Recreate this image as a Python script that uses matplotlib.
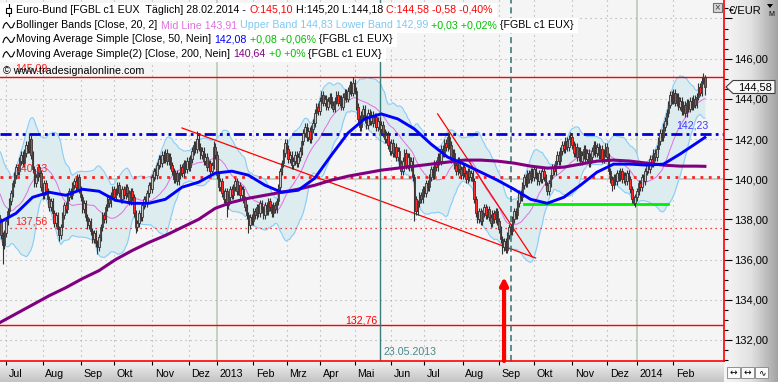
import numpy as np
import pandas as pd
import matplotlib
matplotlib.use("Agg")
import matplotlib.pyplot as plt
import matplotlib.patches as mpatches
from matplotlib.ticker import FuncFormatter, MultipleLocator
from matplotlib.transforms import blended_transform_factory, ScaledTranslation
from matplotlib.colors import LinearSegmentedColormap

plt.rcParams['font.family'] = ['Liberation Sans', 'DejaVu Sans']
FS = 7.7

# trading days, Eurex holidays removed
holidays = ['2012-12-24', '2012-12-25', '2012-12-26', '2012-12-31', '2013-01-01',
            '2013-03-29', '2013-04-01', '2013-05-01', '2013-12-24', '2013-12-25',
            '2013-12-26', '2013-12-31', '2014-01-01']
days = pd.bdate_range('2012-06-26', '2014-02-28')
days = days[~days.isin(pd.to_datetime(holidays))]
day_idx = {d.strftime('%Y-%m-%d'): i for i, d in enumerate(days)}

# daily closes
warmup = [141.0, 141.4, 140.8, 140.2, 139.5, 139.9, 140.4, 139.8, 139.1, 138.6,
          139.2, 139.7, 139.3, 138.8, 138.3, 138.7, 138.1, 137.6, 138.2]
c_jun12 = [137.9, 137.2, 136.7, 137.3]
c_jul12 = [137.9, 138.4, 138.9, 139.3, 139.8, 140.2, 140.6, 140.4, 140.9, 141.2, 140.8,
           141.3, 141.7, 141.5, 142.0, 141.2, 140.5, 139.8, 140.1, 140.6, 140.3, 139.6]
c_aug12 = [139.2, 139.8, 139.4, 139.0, 138.6, 138.9, 138.3, 137.8, 138.2, 137.5, 137.2,
           137.6, 138.2, 138.7, 138.5, 139.1, 139.4, 139.2, 139.7, 139.9, 139.6, 140.1, 139.5]
c_sep12 = [139.1, 138.5, 138.8, 138.1, 137.7, 137.9, 137.4, 137.0, 137.3, 136.8,
           136.6, 137.1, 137.6, 138.2, 138.0, 138.6, 139.0, 138.8, 139.2, 139.5]
c_okt12 = [139.1, 139.4, 139.7, 139.3, 139.0, 139.5, 139.2, 139.6, 139.3, 138.9, 139.4,
           139.1, 138.3, 137.6, 137.8, 138.3, 138.1, 138.7, 139.0, 138.8, 139.3, 139.7, 139.5]
c_nov12 = [140.1, 140.4, 140.2, 140.7, 141.0, 140.8, 141.2, 141.0, 141.3, 140.9, 141.1,
           140.7, 140.4, 140.0, 140.3, 139.9, 140.2, 140.6, 140.3, 140.8, 140.5, 140.9]
c_dez12 = [140.6, 141.0, 141.4, 141.7, 141.5, 142.0, 141.6, 141.2, 141.4, 140.9, 141.1,
           140.6, 140.8, 140.4, 140.7, 141.6, 141.2]
c_jan13 = [140.2, 139.6, 139.9, 139.3, 139.0, 139.4, 138.7, 139.1, 139.5, 139.2, 139.6,
           139.9, 139.4, 139.7, 139.2, 139.5, 139.0, 138.6, 138.2, 137.7, 138.1, 137.9]
c_feb13 = [138.4, 138.2, 138.6, 138.3, 138.8, 138.5, 138.2, 138.7, 138.4, 138.9,
           138.6, 138.3, 138.7, 138.5, 138.9, 139.6, 140.4, 140.8, 141.3, 141.8]
c_mar13 = [141.5, 141.0, 141.2, 140.7, 140.9, 141.2, 140.8, 141.1, 141.4, 141.9,
           142.3, 142.6, 142.1, 142.4, 142.0, 142.5, 142.8, 143.3, 143.6, 143.4]
c_apr13 = [143.9, 144.2, 143.8, 144.0, 143.6, 143.9, 144.1, 143.7, 143.5, 143.9, 144.2,
           143.8, 144.0, 143.6, 144.1, 144.3, 144.0, 144.4, 144.7, 144.3, 144.8]
c_mai13 = [144.4, 143.6, 143.0, 142.6, 143.2, 143.5, 143.0, 142.7, 143.3, 142.9, 143.2,
           142.8, 143.1, 142.6, 142.9, 142.5, 142.7, 142.3, 142.0, 142.2, 141.7, 141.4]
c_jun13 = [141.8, 141.3, 141.6, 141.1, 141.4, 140.8, 140.4, 140.9, 141.3, 140.7,
           141.1, 140.6, 140.9, 140.1, 139.0, 138.4, 138.8, 139.2, 139.0, 139.5]
c_jul13 = [139.3, 139.8, 139.6, 140.1, 140.5, 140.2, 140.8, 140.6, 141.1, 140.9, 141.5,
           141.3, 141.8, 141.6, 142.1, 141.7, 141.0, 141.3, 140.7, 140.4, 140.9, 140.5, 140.2]
c_aug13 = [140.6, 140.3, 140.0, 140.4, 140.1, 140.3, 139.9, 139.0, 138.3, 138.0, 138.4,
           137.9, 138.3, 138.6, 138.2, 138.5, 138.1, 137.8, 138.3, 138.0, 138.4, 137.9]
c_sep13 = [137.5, 137.0, 136.6, 136.9, 136.5, 137.2, 137.6, 137.4, 138.0, 138.4, 138.2,
           138.8, 139.3, 139.1, 139.7, 140.1, 139.8, 140.3, 140.0, 140.4, 140.1]
c_okt13 = [140.5, 140.2, 139.9, 140.3, 140.0, 140.4, 140.1, 139.7, 139.4, 139.8, 140.2,
           140.6, 140.4, 140.9, 141.2, 140.9, 141.4, 141.7, 141.5, 141.9, 141.6, 142.0, 142.1]
c_nov13 = [141.7, 141.3, 141.6, 141.1, 141.4, 140.9, 141.2, 141.5, 141.0, 141.3, 140.8,
           141.1, 141.4, 141.7, 141.3, 141.6, 141.2, 141.5, 141.0, 141.3, 141.6]
c_dez13 = [141.1, 140.4, 140.0, 139.7, 140.1, 139.9, 140.3, 140.1, 140.4, 140.0, 140.2,
           139.9, 140.3, 140.0, 139.5, 139.0, 138.8, 139.1]
c_jan14 = [139.4, 139.8, 139.6, 140.1, 139.9, 140.4, 140.7, 140.5, 141.0, 140.8, 141.3,
           141.1, 141.5, 141.9, 142.3, 142.1, 142.6, 142.9, 143.3, 143.7, 144.2, 143.9]
c_feb14 = [144.3, 143.8, 144.1, 143.6, 143.9, 143.4, 143.7, 143.3, 143.8, 143.5,
           143.9, 143.6, 144.0, 143.7, 144.1, 144.6, 144.3, 144.9, 145.1, 144.58]
close = (c_jun12 + c_jul12 + c_aug12 + c_sep12 + c_okt12 + c_nov12 + c_dez12 + c_jan13
         + c_feb13 + c_mar13 + c_apr13 + c_mai13 + c_jun13 + c_jul13 + c_aug13 + c_sep13
         + c_okt13 + c_nov13 + c_dez13 + c_jan14 + c_feb14)

# long wicks visible on the chart
spike_low = {2: 135.8, 36: 136.9, 59: 136.3, 82: 137.3, 137: 138.1, 150: 137.3,
             250: 137.9, 303: 136.3, 369: 139.4, 382: 138.7, 425: 144.18}
spike_high = {18: 142.3, 119: 142.4, 129: 141.9, 213: 145.1, 270: 142.35,
              344: 142.35, 425: 145.2}

# moving averages, every 10th trading day
sma_idx = list(range(0, 421, 10)) + [425]
sma50 = [137.85, 138.3, 139.1, 139.35, 139.2, 139.5, 139.4, 138.95, 138.8, 138.8, 139.0,
         139.6, 139.85, 140.3, 140.4, 140.2, 139.7, 139.35, 139.45, 140.05, 141.2, 142.3,
         143.0, 143.25, 143.0, 142.5, 141.75, 141.1, 140.75, 140.35, 139.95, 139.5, 139.0,
         138.8, 139.1, 139.7, 140.35, 140.75, 140.75, 140.7, 140.75, 141.25, 141.8, 142.08]
sma200 = [132.85, 133.3, 133.75, 134.2, 134.6, 135.05, 135.45, 136.0, 136.45, 136.85,
          137.2, 137.6, 138.0, 138.55, 138.85, 139.05, 139.2, 139.35, 139.5, 139.7, 139.95,
          140.15, 140.3, 140.45, 140.55, 140.65, 140.75, 140.85, 140.95, 140.95, 140.9,
          140.8, 140.65, 140.55, 140.6, 140.75, 140.9, 140.95, 140.9, 140.8, 140.7, 140.65,
          140.65, 140.64]

# drawing objects
red_solid = [145.09, 132.76]
red_dots_bold = 140.13
red_dots_thin = 137.56
blue_level = 142.23
green_seg = ('2013-09-23', '2014-01-29', 138.75)
trend_a = (('2012-11-27', 142.55), ('2013-10-02', 136.08))
trend_b = (('2013-07-11', 143.25), ('2013-09-30', 136.13))
marked_day = '2013-05-23'
dashed_day = '2013-09-11'
arrow_day, arrow_tip = '2013-09-05', 135.13
month_lbl = ['Jul', 'Aug', 'Sep', 'Okt', 'Nov', 'Dez', '2013', 'Feb', 'Mrz', 'Apr', 'Mai',
             'Jun', 'Jul', 'Aug', 'Sep', 'Okt', 'Nov', 'Dez', '2014', 'Feb']

# ---- derived series
n = len(close)
x = np.arange(n)
c = np.array(close)
o = np.array([warmup[-1]] + close[:-1])
o[-1] = 145.10
hi = np.maximum(o, c) + 0.18
lo = np.minimum(o, c) - 0.18
for k, v in spike_low.items():
    lo[k] = v
for k, v in spike_high.items():
    hi[k] = v
s = pd.Series(warmup + close)
mid = s.rolling(20).mean().to_numpy()[19:]
sd = s.rolling(20).std(ddof=0).to_numpy()[19:]
upper, lower = mid + 2 * sd, mid - 2 * sd

W, H = 778, 382
fig = plt.figure(figsize=(W / 100, H / 100), dpi=100)
fig.patch.set_facecolor('#e8e8e8')

# side strips
ax_r = fig.add_axes([724 / W, 0, 54 / W, 1], zorder=0)
ax_r.imshow(np.linspace(0, 1, 64)[None, :], aspect='auto', extent=[0, 1, 0, 1],
            cmap=LinearSegmentedColormap.from_list('r', ['#f6f6f6', '#e2e2e2', '#a4a4a4']))
ax_r.axis('off')
ax_b = fig.add_axes([0, 0, 724 / W, 21 / H], zorder=0)
ax_b.imshow(np.linspace(0, 1, 32)[:, None], aspect='auto', extent=[0, 1, 0, 1],
            cmap=LinearSegmentedColormap.from_list('b', ['#f2f2f2', '#dadada', '#c4c4c4']))
ax_b.axis('off')

ax = fig.add_axes([0, 21 / H, 724 / W, 361 / H], zorder=2)
ax.set_facecolor('#f5f5f5')
ax.set_xlim(0.36, 436.5)
ax.set_ylim(130.95, 148.92)

month_start = [i for i in range(1, n) if days[i].month != days[i - 1].month]
grid_green = '#b2cab2'
for i, lbl in zip(month_start, month_lbl):
    if lbl.isdigit():
        ax.axvline(i, color=grid_green, lw=1.1, zorder=1)
    else:
        ax.axvline(i, color='#a8a8a8', lw=0.8, dashes=(1, 3.5), zorder=1)
for lv in range(132, 149, 2):
    if lv == 140:
        ax.axhline(lv, color=grid_green, lw=1.1, zorder=1)
    else:
        ax.axhline(lv, color='#a8a8a8', lw=0.8, dashes=(1, 3.5), zorder=1)

# Bollinger bands
ax.fill_between(x, lower, upper, color='#dcecef', lw=0, zorder=2)
ax.plot(x, upper, color='#87cefa', lw=0.8, zorder=3)
ax.plot(x, lower, color='#87cefa', lw=0.8, zorder=3)
ax.plot(x, mid, color='#e070e0', lw=0.7, zorder=3)

# level lines
for lv in red_solid:
    ax.axhline(lv, color='#ff0000', lw=1.0, zorder=4)
ax.axhline(red_dots_bold, color='#ff2020', lw=2.0, dashes=(1, 2), zorder=4)
ax.axhline(red_dots_thin, color='#ff0000', lw=0.9, dashes=(1, 3), zorder=4)
ax.axhline(blue_level, color='#0000dd', lw=2.0, dashes=(4, 1.5, 1, 1.5, 1, 1.5), zorder=4)
ax.plot([day_idx[green_seg[0]], day_idx[green_seg[1]]], [green_seg[2]] * 2,
        color='#00ee00', lw=2.0, zorder=4)
for (d0, p0), (d1, p1) in (trend_a, trend_b):
    ax.plot([day_idx[d0], day_idx[d1]], [p0, p1], color='#ff0000', lw=0.9, zorder=4)
ax.axvline(day_idx[marked_day], color='#3a7c7c', lw=1.0, zorder=4)
ax.axvline(day_idx[dashed_day], color='#2f7070', lw=1.1, dashes=(4, 2.5), zorder=4)

# candles
edge = '#333333'
ax.vlines(x, lo, hi, color=edge, lw=0.8, zorder=5)
body_lo = np.minimum(o, c)
body_h = np.maximum(np.abs(c - o), 0.04)
ax.bar(x, body_h, bottom=body_lo, width=0.9, color=np.where(c < o, '#ff2a2a', '#c8c8c8'),
       edgecolor=edge, lw=0.6, zorder=6)

# moving averages
ax.plot(sma_idx, sma200, color='#800080', lw=2.2, zorder=7)
ax.plot(sma_idx, sma50, color='#0000ff', lw=2.1, zorder=7)

# arrow
ax.annotate('', xy=(day_idx[arrow_day], arrow_tip), xytext=(day_idx[arrow_day], 130.95),
            arrowprops=dict(arrowstyle='-|>', color='#ff0000', lw=3, mutation_scale=11,
                            shrinkA=0, shrinkB=0), zorder=8)

# level labels
tl = blended_transform_factory(ax.transAxes, ax.transData)
for lv, txt, dy in ((145.09, '145,09', 4.0), (red_dots_bold, '140,13', 3.3),
                    (red_dots_thin, '137,56', 2.4)):
    ax.annotate(txt, xy=(15 / 724, lv), xycoords=tl, xytext=(0, dy), textcoords='offset points',
                color='#ff2020', fontsize=FS, va='baseline', ha='left', zorder=9)
ax.annotate('132,76', xy=(day_idx[marked_day], 132.76), xytext=(-1.5, 1.0),
            textcoords='offset points', color='#ff0000', fontsize=FS, va='baseline', ha='right',
            zorder=9)
ax.annotate('142,23', xy=(day_idx['2014-02-05'], blue_level), xytext=(0, 4.6),
            textcoords='offset points', color='#3c3cff', fontsize=FS, va='baseline', ha='left',
            zorder=9)
ax.annotate('23.05.2013', xy=(day_idx[marked_day], 0),
            xycoords=blended_transform_factory(ax.transData, ax.transAxes), xytext=(2.5, 6.5),
            textcoords='offset points', color='#4a8888', fontsize=FS, va='center', ha='left',
            zorder=9)

# axes
for side in ('left', 'top'):
    ax.spines[side].set_visible(False)
for side in ('right', 'bottom'):
    ax.spines[side].set_color('#ff0000')
    ax.spines[side].set_linewidth(1.2)
    ax.spines[side].set_zorder(10)
ax.yaxis.tick_right()
ax.yaxis.set_major_locator(MultipleLocator(2))
ax.yaxis.set_minor_locator(MultipleLocator(0.5))
ax.yaxis.set_major_formatter(
    FuncFormatter(lambda v, p: f'{v:.2f}'.replace('.', ',') if v < 147 else ''))
ax.tick_params(axis='y', which='major', length=6, width=0.8, color='black', pad=1.0,
               labelsize=8)
ax.tick_params(axis='y', which='minor', length=3, width=0.8, color='black')
ax.set_xticks(month_start)
ax.set_xticklabels(month_lbl)
ax.tick_params(axis='x', length=3, width=0.8, color='black', pad=3, labelsize=FS)
shift = ScaledTranslation(2 / 72, 0, fig.dpi_scale_trans)
for t in ax.get_xticklabels():
    t.set_horizontalalignment('left')
    t.set_transform(t.get_transform() + shift)

# overlay in pixel units
ov = fig.add_axes([0, 0, 1, 1], zorder=5)
ov.set_xlim(0, W)
ov.set_ylim(H, 0)
ov.axis('off')
rend = fig.canvas.get_renderer()


def width(txt):
    t = ov.text(0, 0, txt, fontsize=FS)
    w = t.get_window_extent(renderer=rend).width
    t.remove()
    return w


gap = width('a a') - width('aa')


def run(y, parts, x0=16.5):
    xx = x0
    for txt, col in parts:
        t = ov.text(xx, y, txt, color=col, fontsize=FS, va='center', ha='left', zorder=3)
        xx += t.get_window_extent(renderer=rend).width + gap
    ov.add_patch(mpatches.Rectangle((0, y - 7.5), xx + 1, 15, fc='white', ec='none', zorder=2))


run(10, [('Euro-Bund [FGBL c1 EUX  Täglich] 28.02.2014 -', 'black'), ('O:145,10', '#ff0000'),
         ('H:145,20 L:144,18', 'black'), ('C:144,58 -0,58 -0,40%', '#ff0000')])
run(25, [('Bollinger Bands [Close, 20, 2]', 'black'), ('Mid Line 143,91', '#e070e0'),
         ('Upper Band 144,83 Lower Band 142,99', '#80c8f0'), ('+0,03 +0,02%', '#00c000'),
         ('{FGBL c1 EUX}', 'black')])
run(39.5, [('Moving Average Simple [Close, 50, Nein]', 'black'), ('142,08', '#0000ff'),
           ('+0,08 +0,06%', '#00c000'), ('{FGBL c1 EUX}', 'black')])
run(54, [('Moving Average Simple(2) [Close, 200, Nein]', 'black'), ('140,64', '#800080'),
         ('+0 +0%', '#00c000'), ('{FGBL c1 EUX}', 'black')])
ov.text(3, 71, '© www.tradesignalonline.com', fontsize=FS, va='center', ha='left', zorder=3)

# legend icons
ov.plot([9, 9], [4, 16], color='black', lw=0.8, zorder=4)
ov.add_patch(mpatches.Rectangle((6.5, 7.5), 5, 5, fc='white', ec='black', lw=0.8, zorder=5))
wave_x = [3, 4.5, 6.5, 8.5, 10.5, 12.5, 14.5]
wave_y = [3, -1, -2.5, 0, 3, 2.5, -2]
for yc in (25, 39.5, 54):
    ov.plot(wave_x, [yc + v for v in wave_y], color='black', lw=0.8, zorder=4)

# right header and price tag
ov.text(729, 11, '€/EUR', fontsize=8, va='center', ha='left')
ov.text(768, 14, 'M', fontsize=5, va='center', ha='left')
ov.add_patch(mpatches.Polygon([[767, 4], [773, 4], [770, 8]], closed=True, fc='black', ec='none'))
ov.add_patch(mpatches.Rectangle((713, 3), 9, 9, fc='#d8d8d8', ec='#707070', lw=0.8))
ov.text(717.5, 7.5, '×', fontsize=7, va='center', ha='center', color='#404040')
ov.add_patch(mpatches.Polygon([[726, 87], [733, 80.5], [775, 80.5], [775, 93.5], [733, 93.5]],
                              closed=True, fc='#f8f8f8', ec='#404040', lw=0.8, zorder=6))
ov.text(738, 87, '144,58', fontsize=8, va='center', ha='left', zorder=7)

# bottom-right buttons
for bx, sym in ((727, '↔'), (741, '↔'), (755, '∿')):
    ov.add_patch(mpatches.Rectangle((bx, 367), 13, 11, fc='#fafafa', ec='#909090', lw=0.7))
    ov.text(bx + 6.5, 372.5, sym, fontsize=6.5, va='center', ha='center',
            family=['DejaVu Sans'])

fig.savefig('out.png', dpi=100)
